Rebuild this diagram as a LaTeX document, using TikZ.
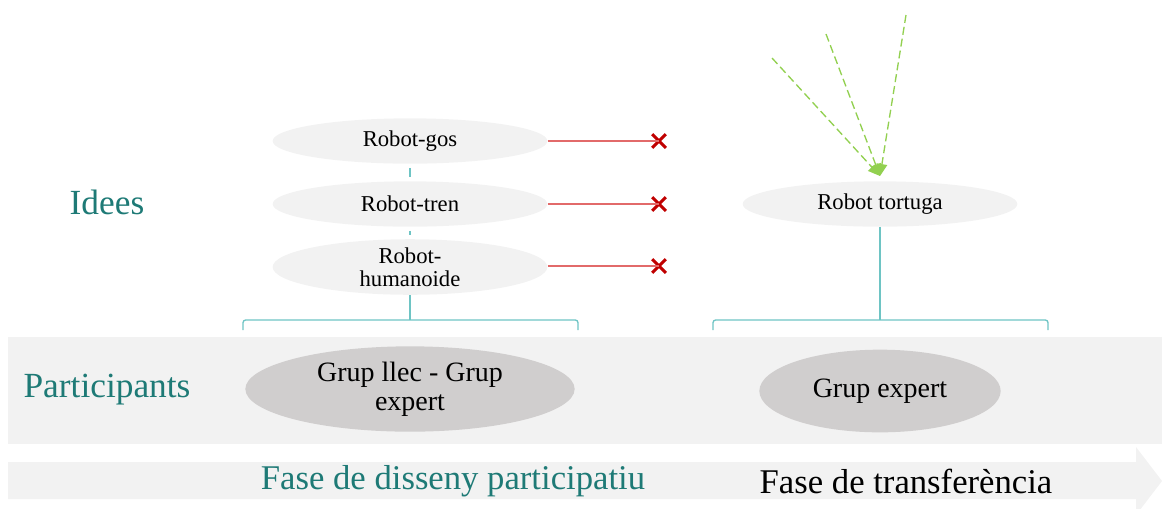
\documentclass[tikz,border=0pt]{standalone}
\usepackage{fontspec}
\setmainfont{Liberation Serif}
\usetikzlibrary{shapes.geometric,shapes.misc,arrows.meta}
\definecolor{tealtxt}{RGB}{30,122,118}
\definecolor{tealline}{RGB}{110,196,196}
\definecolor{bandgrey}{RGB}{242,242,242}
\definecolor{ovalgrey}{RGB}{208,206,206}
\definecolor{redline}{RGB}{226,106,106}
\definecolor{crossred}{RGB}{192,0,0}
\definecolor{greenarr}{RGB}{146,208,80}
\begin{document}
\begin{tikzpicture}[x=0.75pt,y=0.75pt,yscale=-1,
    idea/.style={ellipse,fill=bandgrey,minimum width=206pt,minimum height=34pt,inner sep=0pt,align=center,font=\fontsize{17}{17.5}\selectfont},
    group/.style={ellipse,fill=ovalgrey,inner sep=0pt,align=center,font=\fontsize{21}{22}\selectfont},
    rowlabel/.style={text=tealtxt,font=\fontsize{26.5}{30}\selectfont},
    phase/.style={font=\fontsize{26}{30}\selectfont},
    nope/.style={cross out,draw=crossred,line width=2.3pt,minimum size=8pt,inner sep=0pt},
    link/.style={draw=tealline,line width=1pt},
    reject/.style={draw=redline,line width=1pt},
    idealine/.style={draw=greenarr,line width=1pt,dashed,dash pattern=on 6pt off 3pt,-{Triangle[length=9pt,width=8pt]}}]
        \useasboundingbox (0,0) rectangle (1162,508);
        % background bands
        \fill [bandgrey] (8,337) rectangle (1162,444);
        \fill [bandgrey] (8,462) -- (1136,462) -- (1136,447) -- (1162,481) -- (1136,515) -- (1136,499) -- (8,499) -- cycle;
        % row labels
        \node [rowlabel] (idees) at (107,202) {Idees};
        \node [rowlabel] (part) at (107,390) {Participants};
        \node [phase,text=tealtxt] (fase1) at (453,481) {Fase de disseny participatiu};
        \node [phase] (fase2) at (906,481) {Fase de transferència};
        % ideas
        \node [idea] (gos) at (410,141) {Robot-gos};
        \node [idea] (tren) at (410,204) {Robot-tren};
        \node [idea,minimum height=36pt] (huma) at (410,267) {Robot-\\humanoide};
        \node [idea] (tort) at (880,204) {Robot tortuga};
        % participants
        \node [group,minimum width=247pt,minimum height=64pt] (llec) at (410,389) {Grup llec - Grup\\expert};
        \node [group,minimum width=181pt,minimum height=62pt] (expert) at (880,391) {Grup expert};
        % rejected ideas
        \node [nope] (x1) at (659,141) {};
        \node [nope] (x2) at (659,204) {};
        \node [nope] (x3) at (659,266) {};
        \draw [reject] (gos.east) -- (x1.center);
        \draw [reject] (tren.east) -- (x2.center);
        \draw [reject] (huma.east |- x3) -- (x3.center);
        % links between ideas
        \draw [link,shorten <=3pt,shorten >=3pt] (gos) -- (tren);
        \draw [link,shorten <=3pt,shorten >=3pt] (tren) -- (huma);
        % brackets
        \coordinate (b1) at (410,320);
        \coordinate (b2) at (880,320);
        \draw [link] (huma) -- (b1);
        \draw [link] (tort) -- (b2);
        \draw [link,rounded corners=2pt] (243,330) -- (243,320) -- (578,320) -- (578,330);
        \draw [link,rounded corners=2pt] (713,330) -- (713,320) -- (1048,320) -- (1048,330);
        % incoming ideas
        \coordinate (in1) at (772,58);
        \coordinate (in2) at (826,34);
        \coordinate (in3) at (906,15);
        \coordinate (hit) at (880,176);
        \draw [idealine] (in1) -- (hit);
        \draw [idealine] (in2) -- (hit);
        \draw [idealine] (in3) -- (hit);
\end{tikzpicture}
\end{document}
